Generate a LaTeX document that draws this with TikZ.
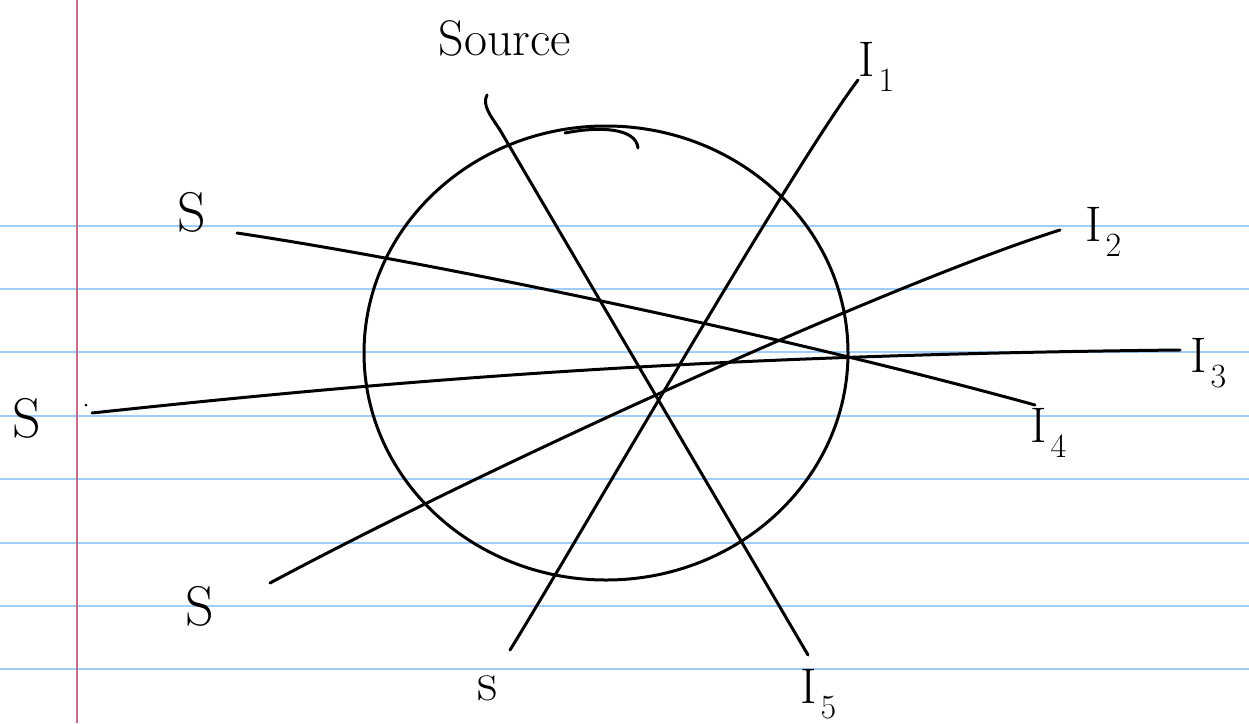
\documentclass[tikz,border=0pt]{standalone}
\usepackage{tikz}

\newcommand{\isub}[1]{I\hspace{4pt}\raisebox{-15pt}{\fontsize{34}{34}\selectfont #1}}

\tikzset{
  rule/.style={draw={rgb,255:red,160;green,205;blue,250}, line width=2pt},
  pen/.style={line width=3pt, line cap=round, line join=round},
  hand/.style={font=\fontsize{56}{58}\selectfont, inner sep=0pt},
  tag/.style={font=\fontsize{50}{52}\selectfont, inner sep=0pt, anchor=base west}
}

\begin{document}
\begin{tikzpicture}[x=1pt, y=-1pt]
  \useasboundingbox (0,0) rectangle (1249,723);
  \fill[white] (0,0) rectangle (1249,723);
  % notebook paper
  \foreach \yy in {226,289,352,416,479,543,606,669}
    \draw[rule] (0,\yy) -- (1249,\yy);
  \draw[draw={rgb,255:red,195;green,110;blue,140}, line width=2pt] (77,0) -- (77,723);

  % end points
  \coordinate (src) at (487,95);
  \coordinate (e5) at (808,655);
  \coordinate (s1) at (510,650);
  \coordinate (e1) at (858,80);
  \coordinate (s2) at (270,583);
  \coordinate (e2) at (1060,230);
  \coordinate (s3) at (92,413);
  \coordinate (e3) at (1180,350);
  \coordinate (s4) at (237,233);
  \coordinate (e4) at (1035,405);

  % labels
  \node[hand, font=\fontsize{50}{52}\selectfont] (lsrc) at (505,38) {Source};
  \node[hand] (lsa) at (192,212) {S};
  \node[hand] (lsb) at (27,418) {S};
  \node[hand] (lsc) at (200,606) {S};
  \node[hand] (lsd) at (488,688) {s};
  \node[tag] (li1) at (858,76) {\isub{1}};
  \node[tag] (li2) at (1085,241) {\isub{2}};
  \node[tag] (li3) at (1190,372) {\isub{3}};
  \node[tag] (li4) at (1030,442) {\isub{4}};
  \node[tag] (li5) at (800,703) {\isub{5}};

  % the circle
  \draw[pen] (606,353) ellipse (242 and 227);
  \draw[pen] (565,133) .. controls (600,126) and (636,128) .. (638,148);

  % rays
  \draw[pen] (src) .. controls (482,105) and (490,115) .. (500,130) -- (e5);
  \draw[pen] (s1) .. controls (560,570) and (790,170) .. (e1);
  \draw[pen] (s2) .. controls (500,460) and (900,280) .. (e2);
  \draw[pen] (s3) .. controls (400,380) and (700,355) .. (e3);
  \draw[pen] (s4) .. controls (450,265) and (800,340) .. (e4);
  \fill (86,405) circle (1.5);
\end{tikzpicture}
\end{document}
